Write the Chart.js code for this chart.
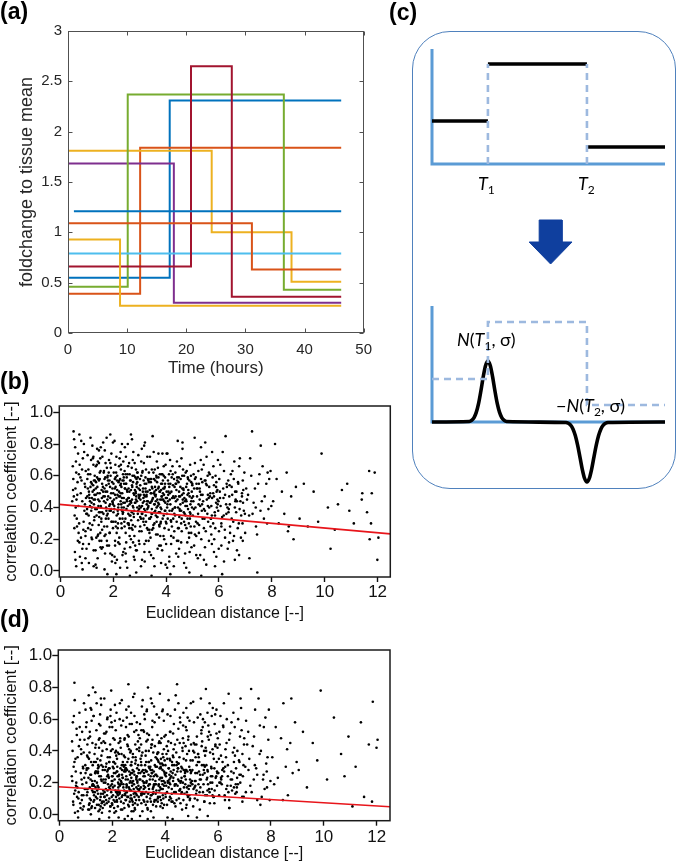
<!DOCTYPE html>
<html><head><meta charset="utf-8">
<script src="https://cdn.jsdelivr.net/npm/chart.js@4.4.0/dist/chart.umd.min.js"></script>
<style>
html,body{margin:0;padding:0;background:#fff;}
body{width:677px;height:861px;position:relative;overflow:hidden;font-family:"Liberation Sans",Arial,sans-serif;}
canvas{position:absolute;}
.lab{position:absolute;font-weight:bold;font-size:23px;line-height:23px;color:#000;}
.box{position:absolute;left:412px;top:31px;width:262px;height:456px;border:1.3px solid #4f81bd;border-radius:38px;}
.ct{position:absolute;font-family:Lato,"Open Sans",sans-serif;font-size:18px;color:#000;white-space:nowrap;line-height:18px;}
.ct sub{font-size:12px;font-style:normal;vertical-align:-4px;line-height:0;}
</style></head><body>
<canvas id="ca" width="380" height="385" style="left:0;top:0"></canvas>
<div class="box"></div>
<canvas id="cc" width="264" height="458" style="left:412px;top:31px"></canvas>
<canvas id="cb" width="400" height="235" style="left:0;top:390px"></canvas>
<canvas id="cd" width="400" height="227" style="left:0;top:634px"></canvas>
<div class="lab" style="left:0;top:0">(a)</div>
<div class="lab" style="left:389px;top:1px">(c)</div>
<div class="lab" style="left:0;top:370px">(b)</div>
<div class="lab" style="left:0;top:608px">(d)</div>
<div class="ct" style="left:478px;top:174px"><i>T</i><sub>1</sub></div>
<div class="ct" style="left:578px;top:174px"><i>T</i><sub>2</sub></div>
<div class="ct" style="left:457px;top:330px"><i>N</i>(<i>T</i><sub>1</sub>, σ)</div>
<div class="ct" style="left:556px;top:396px">−<i>N</i>(<i>T</i><sub>2</sub>, σ)</div>
<script>
// ---------- Panel (a): step profiles (time in hours, foldchange) ----------
const aTimeEnd = 46.2;
const aColors = ['#0072BD','#D95319','#EDB120','#7E2F8E','#77AC30','#4DBEEE','#A2142F','#0072BD','#D95319','#EDB120'];
const aTimes  = [[0,17.2],[0,12.2],[0,24.3,37.8],[0,17.9],[0,10.1,36.5],[0],[0,20.8,27.7],[1.0],[0,31.1],[0,8.8]];
const aLevels = [[0.55,2.31],[0.39,1.84],[1.81,1.00,0.51],[1.685,0.30],[0.46,2.37,0.43],[0.79],[0.66,2.65,0.36],[1.21],[1.09,0.63],[0.93,0.27]];
const aXTicks = [0,10,20,30,40,50];
const aXLabels = ['0','10','20','30','40','50'];
const aYTicks = [0,0.5,1,1.5,2,2.5,3];
const aYLabels = ['0','0.5','1','1.5','2','2.5','3'];

// ---------- Panel (b)/(d): scatter, x in 1/100 units, y in 1/100 units ----------
const bXTicks = [0,2,4,6,8,10,12];
const bXLabels = ['0','2','4','6','8','10','12'];
const bYTicks = [0,0.2,0.4,0.6,0.8,1.0];
const bYLabels = ['0.0','0.2','0.4','0.6','0.8','1.0'];
const bFitX = [-0.04, 12.48];
const bFitY = [0.42, 0.234];
const dFitX = [-0.04, 12.5];
const dFitY = [0.174, 0.048];

const scatterB = "52,83 61,45 55,12 73,67 88,31 49,58 95,22 67,74 58,40 81,5 92,55 50,88 63,28 77,49 85,71 54,35 99,14 70,61 60,3 83,44 47,66 91,38 66,19 79,82 57,52 87,26 51,47 74,9 96,63 62,33 80,57 56,78 93,42 69,24 84,1 48,51 72,86 98,36 59,69 86,17 64,48 76,59 53,27 90,75 68,41 82,64 57,7 94,53 71,30 45,44 89,80 65,56 78,21 97,46 60,62 "+
"104,52 117,38 123,71 131,45 145,29 152,63 168,47 175,84 182,33 196,56 108,17 113,61 127,42 139,77 141,8 156,51 163,36 171,68 187,24 192,49 101,39 119,55 126,3 134,66 148,44 159,72 166,28 178,59 185,41 199,81 106,64 115,26 129,48 137,35 143,58 155,19 161,53 173,40 184,70 194,31 110,46 121,79 133,13 146,57 150,37 164,62 177,50 189,86 198,43 111,30 124,54 136,21 142,69 157,46 169,11 180,57 191,65 103,73 118,43 130,60 147,34 153,78 167,22 174,54 186,38 195,6 107,35 122,50 138,67 144,41 158,26 170,59 181,47 193,74 114,84 128,32 135,56 149,49 160,15 176,65 188,42 197,52 102,58 120,20 132,39 140,53 151,71 165,44 179,36 190,60 109,48 125,67 137,2 154,40 162,81 172,33 183,55 199,27 112,41 116,70 127,57 143,23 149,62 158,37 171,50 184,16 192,39 105,27 119,46 134,52 146,76 155,31 167,58 178,45 189,68 196,10 178,-2 "+
"203,45 211,62 218,30 224,71 233,38 241,55 249,18 256,66 262,42 271,83 278,34 285,50 293,59 299,25 206,52 214,7 221,47 229,64 236,36 244,78 252,44 259,29 266,57 274,41 281,68 289,13 296,48 201,37 209,59 216,48 223,21 231,53 238,69 246,33 254,61 261,50 269,27 276,75 284,43 291,56 298,39 205,82 213,35 220,56 228,44 235,10 243,63 250,39 258,52 265,35 273,60 280,22 287,47 295,73 202,62 210,28 219,40 226,58 234,49 242,31 248,72 257,46 264,15 272,53 279,38 286,64 294,32 207,16 215,51 222,66 230,42 239,57 247,24 255,80 263,44 270,37 277,49 283,28 292,62 200,49 212,72 217,38 227,54 232,27 240,46 251,59 253,2 260,68 268,43 275,56 282,51 290,44 297,19 204,41 208,67 225,33 237,61 245,52 257,36 267,86 274,29 288,55 299,47 214,57 219,18 228,75 233,46 240,40 249,55 255,30 262,61 271,45 278,9 284,59 293,36 201,55 209,31 222,50 235,57 244,43 252,51 261,27 270,65 279,48 291,40 212,-2 287,-1 263,-3 "+
"303,48 311,63 318,29 325,55 332,40 339,72 347,36 354,58 361,44 368,23 376,61 383,47 391,35 398,67 305,33 313,52 320,81 327,42 334,19 342,56 350,46 357,64 364,31 372,53 379,40 386,74 394,27 301,58 309,41 316,68 323,35 330,50 337,12 345,44 352,62 359,38 366,56 374,29 381,51 389,45 396,59 307,25 314,46 322,59 329,72 336,33 344,49 351,27 358,53 365,69 373,42 380,16 388,57 395,38 302,54 310,36 317,44 324,64 331,26 338,51 346,39 353,75 360,47 367,34 375,50 382,61 390,22 397,43 306,69 312,50 319,6 326,48 333,57 341,43 348,52 356,30 363,60 370,43 377,37 385,55 392,48 399,31 304,40 315,57 321,38 328,27 335,62 343,34 349,85 355,42 362,51 369,65 378,45 387,33 393,52 308,77 314,31 323,50 331,44 340,58 347,26 357,48 364,40 371,59 378,22 384,45 391,66 398,4 302,34 310,62 320,47 329,39 338,43 346,64 353,49 361,35 370,52 380,31 388,49 396,55 345,-3 "+
"403,46 411,61 418,32 426,54 433,40 441,69 448,27 455,58 463,43 470,36 478,63 485,49 493,28 499,55 405,74 413,38 420,50 428,21 435,62 443,45 450,34 458,71 465,52 473,41 480,18 488,57 495,44 401,30 409,55 416,42 424,66 431,36 439,51 446,9 453,47 461,60 468,31 476,53 483,39 491,67 498,40 407,57 414,45 422,28 430,58 437,44 444,82 452,38 459,25 466,49 474,62 481,33 489,47 496,15 402,50 410,26 417,63 425,39 432,53 440,31 447,56 454,42 462,77 469,46 477,27 484,51 492,36 404,40 412,53 419,17 427,47 434,35 442,59 449,50 457,30 464,64 471,44 479,55 486,24 494,60 406,33 415,70 423,46 429,3 436,55 445,40 451,66 460,48 467,37 475,45 482,59 490,33 497,50 408,48 421,59 416,-2 488,-1 "+
"503,44 512,59 519,30 527,52 535,38 542,67 550,25 558,48 565,61 573,35 581,54 589,43 596,70 506,52 514,22 522,63 529,41 537,56 545,33 553,72 561,46 568,28 576,59 584,37 591,50 599,14 501,35 509,68 517,47 525,29 532,58 540,44 548,81 556,36 563,53 571,41 579,66 586,27 594,45 504,61 511,40 520,8 528,50 535,64 543,39 551,55 559,31 566,47 574,75 582,20 590,56 597,38 507,28 515,55 523,42 531,70 538,48 546,57 554,45 562,62 570,33 578,49 587,60 595,42 508,84 519,52 533,-3 "+
"603,50 612,34 619,63 627,42 635,57 642,28 650,48 658,69 665,37 673,55 681,44 689,30 696,62 606,41 614,75 622,26 630,53 637,39 645,61 653,19 661,50 668,44 676,66 684,35 692,51 699,24 601,58 609,30 617,46 625,85 632,40 640,54 648,33 656,58 663,45 671,27 679,71 687,47 694,38 605,67 616,52 628,36 639,47 651,63 660,40 672,56 683,21 691,43 612,-2 "+
"703,52 714,35 722,60 731,43 740,28 748,55 757,38 765,66 773,47 782,30 790,58 798,41 706,45 718,71 727,36 736,52 744,23 753,61 762,44 770,33 779,55 787,39 795,63 710,48 725,88 739,40 758,79 784,62 745,-1 "+
"805,44 818,58 826,30 838,50 847,36 856,62 864,28 873,47 882,20 891,53 812,80 861,25 "+
"905,33 921,55 936,28 958,50 975,31 988,74 1012,40 1038,26 1065,51 1093,38 1140,45 1175,30 1189,62 1203,21 1168,63 1142,49 1178,49 1160,37 1170,20 1199,7 1110,30 1085,55 1050,42 1022,14 "+
"112,44 127,51 138,39 149,58 163,47 176,35 188,53 199,42 105,61 121,29 134,48 146,37 158,55 171,43 183,62 194,31 108,50 119,40 131,57 143,45 155,33 167,52 179,60 191,38 102,47 116,56 129,34 141,49 153,41 165,63 177,28 189,46 101,36 114,53 126,45 139,59 151,24 162,50 174,38 186,57 197,44 "+
"207,48 218,36 229,55 238,43 247,61 258,30 267,51 276,40 288,58 297,46 204,39 215,60 226,47 235,33 244,52 255,41 264,57 273,26 285,49 294,38 209,53 220,42 231,30 240,59 251,45 262,35 271,54 282,43 291,62 201,31 212,46 223,57 232,40 243,28 253,50 266,44 277,36 289,53 299,41 206,58 217,27 228,49 237,37 248,55 259,46 268,32 279,60 286,45 296,52 "+
"303,45 314,33 322,52 333,41 344,58 352,29 361,48 372,37 381,55 393,44 306,60 317,39 326,47 337,26 346,53 357,42 366,34 377,50 386,61 397,38 301,51 312,43 324,31 335,56 348,45 355,37 364,59 375,28 384,47 395,53 308,36 319,55 328,44 339,33 342,49 359,57 368,41 379,30 389,52 399,46 302,28 316,48 331,58 345,36 356,50 367,45 382,39 391,60 "+
"405,42 416,55 427,33 436,47 448,59 457,38 466,51 477,44 486,30 495,56 403,36 414,49 425,61 434,40 445,27 454,53 463,45 474,35 483,58 492,42 409,50 419,31 431,46 442,57 451,39 461,52 472,29 481,48 490,37 499,54 407,44 422,38 438,55 449,47 459,33 468,60 479,41 497,46 "+
"505,39 516,52 527,45 538,33 549,57 558,41 567,49 578,30 589,53 598,44 509,58 521,36 532,48 543,27 554,54 563,40 574,46 585,35 594,51 502,47 513,31 524,55 536,42 547,38 557,60 569,33 581,47 592,40 "+
"604,46 618,35 629,55 641,42 654,31 666,50 678,39 690,57 609,28 623,48 636,37 648,53 662,44 675,30 687,49 698,36 "+
"125,72 168,76 233,80 317,79 402,74 462,81 532,78 274,70 371,74 146,68 229,67 "+
"156,14 247,11 318,17 385,13 446,19 529,10 208,5 352,8 412,6 176,19 283,16 489,12 573,17 633,14 "+
"72,18 95,8 118,21 133,4 152,15 171,23 189,11 207,19 226,2 243,14 262,22 281,7 299,17 318,12 337,24 356,3 374,16 393,20 412,9 431,25 449,14 468,5 487,21 506,16 524,24 543,7 562,19 581,12 600,25 619,6 638,18 657,22 676,10 95,25 126,13 148,19 167,1 186,24 205,9 224,17 248,6 267,20 286,13 305,3 324,19 343,10 362,23 381,5 400,17 419,22 438,11 457,18 476,2 495,24 514,10 533,20 552,4 571,23 590,9 609,16 642,24 668,13 690,19 715,8 83,14 108,5 141,22 177,16 213,24 238,12 275,18 309,7 341,21 368,14 404,2 441,19 472,11 509,23 547,15 585,3 623,21 660,7";

const scatterD = "52,8 61,35 55,62 73,14 88,3 49,21 95,47 67,11 58,72 81,26 92,5 50,40 63,18 77,55 85,9 54,30 99,66 70,2 60,15 83,38 47,24 91,12 66,50 79,7 57,33 87,19 51,58 74,43 96,16 62,27 80,4 56,13 93,70 69,36 84,22 48,46 72,10 98,31 59,1 86,52 64,20 76,64 53,6 90,29 68,17 82,41 57,83 94,23 71,-2 65,54 "+
"104,12 117,25 123,5 131,33 145,18 152,48 168,8 175,22 182,61 196,14 108,36 113,3 127,19 139,27 141,70 156,11 163,40 171,6 187,29 192,16 101,55 119,9 126,31 134,21 148,2 159,37 166,15 178,52 185,24 199,7 106,44 115,17 129,62 137,26 143,10 155,34 161,1 173,45 184,19 194,66 110,23 121,4 133,38 146,13 150,57 164,28 177,9 189,33 198,21 111,75 124,15 136,42 142,6 157,24 169,51 180,12 191,36 103,28 118,67 130,18 147,31 153,3 167,46 174,20 186,8 195,40 107,16 122,59 138,11 144,35 158,22 170,73 181,27 193,5 114,39 128,14 135,26 149,47 160,7 176,30 188,17 197,58 102,20 120,33 132,9 140,53 151,24 165,13 179,41 190,2 109,29 125,45 137,17 154,63 162,8 172,28 183,36 199,19 112,6 116,49 127,80 143,15 149,30 158,69 171,11 184,25 192,44 105,37 119,0 134,14 146,27 155,56 167,22 178,32 189,10 196,78 188,-2 151,-3 "+
"203,17 211,32 218,8 224,45 233,21 241,59 249,12 256,28 262,68 271,15 278,36 285,4 293,24 299,50 206,26 214,11 221,39 229,18 236,72 244,30 252,9 259,43 266,20 274,57 281,13 289,34 296,6 201,41 209,22 216,64 223,15 231,29 238,3 246,47 254,19 261,35 269,10 276,26 284,62 291,17 298,31 205,9 213,53 220,24 228,14 235,38 243,7 250,27 258,50 265,16 273,33 280,2 287,44 295,21 202,30 210,69 219,13 226,25 234,56 242,19 248,36 257,11 264,41 272,23 279,74 286,14 294,29 207,4 215,37 222,20 230,48 239,12 247,28 255,61 263,17 270,31 277,8 283,52 292,24 200,55 212,15 217,27 227,10 232,42 240,33 251,22 253,66 260,6 268,39 275,18 282,27 290,13 297,46 204,33 208,1 225,19 237,28 245,15 257,44 267,25 274,9 288,36 299,18 214,40 219,27 228,60 233,8 240,23 249,31 255,14 262,49 271,26 278,38 284,11 293,58 201,24 209,47 222,12 235,20 244,37 252,29 261,82 270,12 279,21 291,53 247,-3 259,-1 224,-2 274,-3 "+
"303,22 311,37 318,9 325,28 332,51 339,16 347,42 354,6 361,31 368,63 376,19 383,45 391,12 398,34 305,57 313,14 320,26 327,40 334,3 342,22 350,70 357,18 364,36 372,10 379,29 386,48 394,21 301,15 309,44 316,28 323,60 330,11 337,33 345,24 352,47 359,8 366,25 374,39 381,17 389,65 396,27 307,35 314,2 322,20 329,46 336,13 344,30 351,55 358,19 365,9 373,34 380,76 388,23 395,41 302,9 310,31 317,53 324,17 331,27 338,40 346,12 353,22 360,58 367,15 375,33 382,5 390,28 397,49 306,26 312,68 319,18 326,37 333,8 341,29 348,44 356,14 363,25 370,38 377,61 385,16 392,31 399,20 304,48 315,21 321,13 328,33 335,80 343,10 349,26 355,39 362,19 369,30 378,46 387,7 393,36 308,17 314,39 323,24 331,66 340,19 347,34 357,27 364,13 371,50 378,22 384,35 391,4 398,26 302,40 310,12 320,52 329,20 338,30 346,73 353,16 361,43 370,24 380,11 388,32 396,18 305,-1 356,-2 334,-3 "+
"403,24 411,40 418,11 426,33 433,57 441,19 448,29 455,45 463,14 470,35 478,22 485,61 493,9 499,27 405,38 413,17 420,52 428,26 435,7 443,31 450,70 458,20 465,42 473,13 480,28 488,49 495,18 401,31 409,63 416,22 424,8 431,36 439,25 446,47 453,15 461,30 468,56 476,19 483,38 491,12 498,44 407,14 414,29 422,45 430,21 437,66 444,33 452,10 459,27 466,40 474,24 481,53 489,16 496,34 402,50 410,20 417,35 425,13 432,28 440,75 447,18 454,36 462,23 469,9 477,43 484,27 492,59 404,26 412,46 419,19 427,31 434,14 442,39 449,22 457,58 464,29 471,17 479,34 486,11 494,28 406,43 415,9 423,24 429,37 436,18 445,82 451,32 460,21 467,48 475,26 482,14 490,40 497,20 408,35 421,27 428,-3 487,-1 409,-2 "+
"503,28 512,44 519,15 527,36 535,22 542,55 550,30 558,12 565,47 573,24 581,38 589,63 596,18 506,40 514,26 522,9 529,33 537,51 545,19 553,42 561,27 568,70 576,16 584,35 591,23 599,48 501,21 509,58 517,13 525,38 532,25 540,46 548,8 556,31 563,56 571,20 579,41 586,29 594,66 504,34 511,17 520,49 528,27 535,73 543,14 551,37 559,23 566,52 574,30 582,11 590,44 597,26 507,16 515,36 523,61 531,22 538,43 546,28 554,79 562,19 570,39 578,24 587,57 595,33 508,45 519,31 526,19 533,63 547,40 560,15 572,50 520,-2 561,-1 "+
"603,35 612,22 619,56 627,30 635,18 642,47 650,27 658,64 665,13 673,40 681,25 689,53 696,31 606,44 614,19 622,70 630,36 637,24 645,51 653,15 661,42 668,29 676,60 684,20 692,38 699,48 601,26 609,62 617,33 625,12 632,45 640,76 648,22 656,39 663,55 671,17 679,34 687,67 694,24 605,52 616,28 628,41 639,14 651,58 660,33 672,23 683,49 691,11 698,44 611,37 633,60 667,19 685,73 "+
"703,30 714,52 722,18 731,43 740,66 748,25 757,38 765,11 773,55 782,32 790,47 798,21 706,59 718,35 727,14 736,49 744,29 753,73 762,40 770,22 779,61 787,36 795,9 710,44 725,79 739,31 758,56 784,27 792,66 776,16 "+
"805,36 818,55 826,23 838,48 847,70 856,30 864,12 873,45 882,26 891,58 812,19 861,41 877,73 845,9 897,33 "+
"905,28 921,52 936,17 958,45 975,34 988,78 1012,22 1038,61 1065,38 1093,49 1120,30 1140,58 1152,11 1170,44 1185,71 1199,42 1203,47 1182,8 1108,5 1078,24 "+
"106,14 118,22 129,8 137,27 148,17 159,31 170,11 181,24 193,5 104,29 115,10 126,19 138,33 149,6 160,21 171,14 183,28 194,18 109,3 120,25 131,12 142,20 154,9 165,30 176,16 187,23 198,11 112,35 124,18 135,4 146,26 157,13 168,20 179,7 190,29 101,16 "+
"203,12 212,26 221,5 232,19 241,31 250,9 259,22 268,15 277,28 286,7 295,20 206,33 215,14 224,24 233,3 242,17 251,29 260,11 269,21 278,6 287,32 296,16 201,21 210,8 219,30 228,13 237,25 246,4 255,18 264,27 273,10 282,19 291,23 200,6 209,18 218,35 227,22 236,11 245,27 254,14 263,5 272,31 281,16 290,9 299,26 205,29 214,2 223,17 239,23 248,13 257,33 266,8 275,20 284,25 293,12 "+
"303,16 312,27 321,8 330,21 339,33 348,12 357,24 366,5 375,18 384,29 393,10 306,22 315,13 324,31 333,4 342,19 351,26 360,9 369,35 378,15 387,21 396,6 301,28 310,7 319,20 328,14 337,25 346,2 355,17 364,30 373,11 382,23 391,16 300,11 309,33 318,24 327,6 336,18 345,28 354,13 363,21 372,8 381,32 390,19 399,25 "+
"404,18 413,29 422,10 431,23 440,14 449,32 458,7 467,20 476,27 485,12 494,22 407,6 416,25 425,16 434,31 443,9 452,21 461,13 470,28 479,4 488,18 497,26 401,13 410,21 419,34 428,8 437,19 446,27 455,15 464,3 473,24 482,17 491,30 "+
"503,19 512,10 521,26 530,14 539,31 548,8 557,22 566,16 575,29 584,11 593,24 506,5 515,21 524,33 533,17 542,25 551,12 560,28 569,7 578,20 587,15 596,27 "+
"604,12 615,24 626,9 637,31 648,18 659,26 670,14 681,33 692,8 609,20 620,29 631,16 642,4 653,22 664,37 675,19 686,25 697,11 "+
"110,48 150,42 190,55 230,46 270,40 310,53 350,44 390,38 430,51 470,45 510,39 550,58 590,43 130,62 210,59 330,65 420,62 480,67 560,64 620,55 "+
"705,14 735,22 760,6 785,17 715,28 748,9 772,25 "+
"78,47 103,58 121,66 138,44 157,73 174,51 193,62 211,39 229,70 247,48 266,57 284,76 302,42 321,63 339,50 358,68 376,45 395,59 413,72 432,41 450,54 469,64 487,47 506,71 524,38 543,60 561,49 580,67 598,42 92,39 115,52 136,77 159,45 181,60 204,48 225,38 252,55 271,64 293,41 315,72 334,47 352,59 372,39 391,66 418,52 437,44 456,61 478,55 497,70 518,44 537,53 555,40 576,62 594,51 "+
"85,12 99,26 114,7 131,18 146,29 164,4 182,15 199,24 217,9 236,31 254,17 273,2 291,22 309,13 328,27 346,8 365,19 383,30 402,11 420,23 439,5 457,16 476,28 494,10 512,21 531,3 549,26 568,14 586,7 605,20 623,27 642,9 660,17 89,30 124,21 156,5 188,33 221,14 253,24 286,3 319,16 351,28 384,9 416,20 449,29 481,6 514,18 546,31 579,12 611,23 643,4";

// ---------- Panel (c): schematic (time units 0-100, height units) ----------
const cT = [24, 66.5];            // T1, T2
const cStep = [43, 100, 17];      // piecewise-constant levels
const cUpperBase = 258;           // baseline of upper diagram
const cAxisH = [115, 116];        // axis heights upper / lower
const cEnd = 100;
const pulseUp = [0.5,1.6,4.2,9.6,18.6,31.3,45.4,56.6,61,56.6,45.4,31.3,18.6,9.6,4.2,1.6,0.5];      // offsets -8..8
const pulseDown = [-0.5,-1.3,-3.2,-7.0,-13.6,-23.2,-35.1,-47.3,-56.5,-60,-56.5,-47.3,-35.1,-23.2,-13.6,-7.0,-3.2,-1.3,-0.5]; // offsets -9..9
const arrowShape = [[46,202],[55.8,202],[55.8,180],[60.1,180],[50.9,158],[41.7,180],[46,180],[46,202]];

// ---------- helpers ----------
const FONT = '"Liberation Sans", Arial, Helvetica, sans-serif';
Chart.defaults.font.family = FONT;
function parsePairs(s){ return s.trim().split(/\s+/).map(p=>{const [a,b]=p.split(','); return {x:+a/100, y:+b/100};}); }
const fixTicks = arr => s => { s.ticks = arr.map(v=>({value:v})); };

const frameA = {id:'frameA', afterDraw(chart){
  const {ctx, chartArea:a, scales:{x,y}} = chart;
  ctx.save(); ctx.strokeStyle='#505050'; ctx.lineWidth=1;
  const L=Math.round(a.left)+0.5, T=Math.round(a.top)+0.5, R=Math.round(a.right)-0.5, B=Math.round(a.bottom)-0.5;
  ctx.strokeRect(L,T,R-L,B-T);
  ctx.beginPath();
  x.ticks.forEach(t=>{const p=Math.round(x.getPixelForValue(t.value))+0.5; ctx.moveTo(p,B); ctx.lineTo(p,B-4); ctx.moveTo(p,T); ctx.lineTo(p,T+4);});
  y.ticks.forEach(t=>{const p=Math.round(y.getPixelForValue(t.value))+0.5; ctx.moveTo(L,p); ctx.lineTo(L+4,p); ctx.moveTo(R,p); ctx.lineTo(R-4,p);});
  ctx.stroke(); ctx.restore();
}};
const frameB = {id:'frameB', afterDraw(chart){
  const {ctx, chartArea:a} = chart;
  ctx.save(); ctx.strokeStyle='#1a1a1a'; ctx.lineWidth=1.5;
  ctx.strokeRect(a.left, a.top, a.right-a.left, a.bottom-a.top);
  ctx.restore();
}};

// ---------- chart (a) ----------
const aSets = aTimes.map((ts,i)=>{
  const pts = ts.map((t,j)=>({x:t, y:aLevels[i][j]}));
  pts.push({x:aTimeEnd, y:aLevels[i][aLevels[i].length-1]});
  return {data:pts, borderColor:aColors[i], backgroundColor:aColors[i], borderWidth:2, stepped:'before', pointRadius:0, order:aTimes.length-i, fill:false};
});
new Chart(document.getElementById('ca'), {
  type:'line', data:{datasets:aSets},
  options:{
    responsive:false, animation:false, events:[],
    layout:{padding:{left:0, top:31, right:9, bottom:0}},
    plugins:{legend:{display:false}, tooltip:{enabled:false}},
    scales:{
      x:{type:'linear', min:0, max:50, afterBuildTicks:fixTicks(aXTicks), afterFit:s=>{s.height=52;},
         grid:{display:false, drawTicks:false, tickLength:0}, border:{display:false},
         ticks:{font:{size:15}, color:'#262626', padding:8, maxRotation:0, autoSkip:false, callback:(v,i)=>aXLabels[i]},
         title:{display:true, text:'Time (hours)', font:{size:17}, color:'#262626', padding:{top:0,bottom:6}}},
      y:{type:'linear', min:0, max:3, afterBuildTicks:fixTicks(aYTicks), afterFit:s=>{s.width=68;},
         grid:{display:false, drawTicks:false, tickLength:0}, border:{display:false},
         ticks:{font:{size:15}, color:'#262626', padding:6, autoSkip:false, callback:(v,i)=>aYLabels[i]},
         title:{display:true, text:'foldchange to tissue mean', font:{size:18}, color:'#262626', padding:{top:16,bottom:0}}}
    }
  },
  plugins:[frameA]
});

// ---------- charts (b) and (d) ----------
function scatterChart(id, pts, fitX, fitY, yMin, yMax, xMin, xMax, xH, yW, padTop, padRight, xTitlePad, xTickPad){
  new Chart(document.getElementById(id), {
    type:'scatter',
    data:{datasets:[
      {data:[{x:fitX[0],y:fitY[0]},{x:fitX[1],y:fitY[1]}], showLine:true, borderColor:'#e8151b', borderWidth:1.6, pointRadius:0, order:0},
      {data:parsePairs(pts), pointRadius:1.3, pointBackgroundColor:'#000', pointBorderWidth:0, pointHoverRadius:0, order:1}
    ]},
    options:{
      responsive:false, animation:false, events:[],
      layout:{padding:{left:0, top:padTop, right:padRight, bottom:0}},
      plugins:{legend:{display:false}, tooltip:{enabled:false}},
      scales:{
        x:{type:'linear', min:xMin, max:xMax, afterBuildTicks:fixTicks(bXTicks), afterFit:s=>{s.height=xH;},
           grid:{display:true, drawOnChartArea:false, drawTicks:true, tickLength:5, tickColor:'#111', tickWidth:1.4}, border:{display:false},
           ticks:{font:{size:17}, color:'#111', padding:xTickPad, maxRotation:0, autoSkip:false, callback:(v,i)=>bXLabels[i]},
           title:{display:true, text:'Euclidean distance [--]', font:{size:16}, color:'#111', padding:{top:0,bottom:xTitlePad}}},
        y:{type:'linear', min:yMin, max:yMax, afterBuildTicks:fixTicks(bYTicks), afterFit:s=>{s.width=yW;},
           grid:{display:true, drawOnChartArea:false, drawTicks:true, tickLength:6, tickColor:'#111', tickWidth:1.4}, border:{display:false},
           ticks:{font:{size:17}, color:'#111', padding:0, autoSkip:false, callback:(v,i)=>bYLabels[i]},
           title:{display:true, text:'correlation coefficient [--]', font:{size:16.5}, color:'#111', padding:{top:2,bottom:0}}}
      }
    },
    plugins:[frameB]
  });
}
scatterChart('cb', scatterB, bFitX, bFitY, -0.038, 1.04, -0.04, 12.48, 48, 59.3, 16, 9.7, 2, 0);
scatterChart('cd', scatterD, dFitX, dFitY, -0.040, 1.036, -0.04, 12.5, 40.3, 58.3, 16, 10, -2, 1);

// ---------- chart (c) ----------
const gap = (x)=>({x:x, y:null});
const upBlack = [
  {x:0,y:cUpperBase+cStep[0]},{x:cT[0],y:cUpperBase+cStep[0]}, gap(cT[0]),
  {x:cT[0],y:cUpperBase+cStep[1]},{x:cT[1],y:cUpperBase+cStep[1]}, gap(cT[1]),
  {x:cT[1],y:cUpperBase+cStep[2]},{x:cEnd,y:cUpperBase+cStep[2]}];
const upDash = [{x:cT[0],y:cUpperBase},{x:cT[0],y:cUpperBase+cStep[1]}, gap(cT[0]), {x:cT[1],y:cUpperBase},{x:cT[1],y:cUpperBase+cStep[1]}];
const upAxis = [{x:0,y:cUpperBase+cAxisH[0]},{x:0,y:cUpperBase},{x:cEnd,y:cUpperBase}];
const loAxis = [{x:0,y:cAxisH[1]},{x:0,y:0},{x:cEnd,y:0}];
const loDash = [{x:0,y:cStep[0]},{x:cT[0],y:cStep[0]},{x:cT[0],y:cStep[1]},{x:cT[1],y:cStep[1]},{x:cT[1],y:cStep[2]},{x:cEnd,y:cStep[2]}];
const loCurve = [{x:0,y:0}]
  .concat(pulseUp.map((h,k)=>({x:cT[0]-8+k, y:h})))
  .concat(pulseDown.map((h,k)=>({x:cT[1]-9+k, y:h})))
  .concat([{x:cEnd,y:0}]);
const arrow = arrowShape.map(p=>({x:p[0], y:p[1]}));
const axisBlue = '#5b9bd5', dashBlue = '#9db9df';
new Chart(document.getElementById('cc'), {
  type:'scatter',
  data:{datasets:[
    {data:upDash, showLine:true, borderColor:dashBlue, borderWidth:2.6, borderDash:[7,5], pointRadius:0, spanGaps:false, order:1},
    {data:loDash, showLine:true, borderColor:dashBlue, borderWidth:2.6, borderDash:[7,5], pointRadius:0, order:1},
    {data:upBlack, showLine:true, borderColor:'#000', borderWidth:3.6, pointRadius:0, spanGaps:false, order:3},
    {data:loCurve, showLine:true, borderColor:'#000', borderWidth:3.6, pointRadius:0, cubicInterpolationMode:'monotone', order:3},
    {data:upAxis, showLine:true, borderColor:axisBlue, borderWidth:3, pointRadius:0, order:5},
    {data:loAxis, showLine:true, borderColor:axisBlue, borderWidth:3, pointRadius:0, order:5},
    {data:arrow, showLine:true, borderColor:'#0f3f9e', backgroundColor:'#0f3f9e', borderWidth:1, fill:'shape', pointRadius:0, order:2}
  ]},
  options:{
    responsive:false, animation:false, events:[],
    layout:{padding:0},
    plugins:{legend:{display:false}, tooltip:{enabled:false}},
    scales:{
      x:{type:'linear', display:false, min:-8.58, max:104.72},
      y:{type:'linear', display:false, min:-67, max:391}
    }
  }
});
</script>
</body></html>
